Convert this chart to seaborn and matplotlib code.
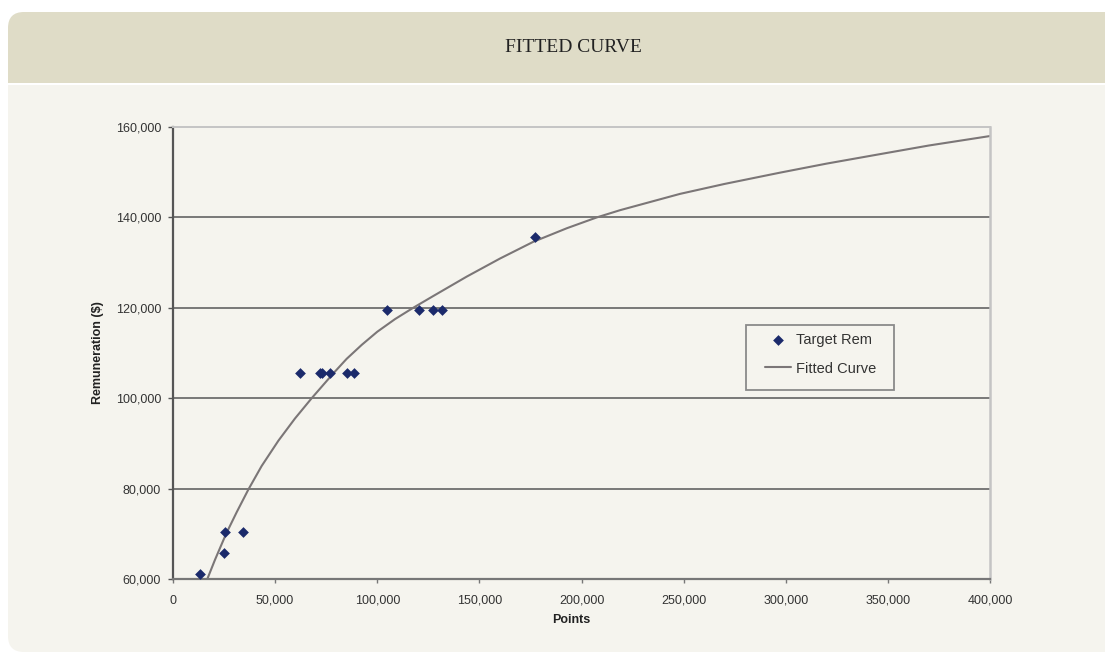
import matplotlib
matplotlib.use("Agg")
import matplotlib.pyplot as plt
import seaborn as sns
from matplotlib.patches import FancyBboxPatch, Rectangle
from matplotlib.ticker import FuncFormatter

# ---------------- data ----------------
title = "FITTED CURVE"
x_label = "Points"
y_label = "Remuneration ($)"
series_points = "Target Rem"
series_curve = "Fitted Curve"

points_x = [13200, 25100, 25500, 34100, 62300, 72000, 72800, 76900, 85400, 88800,
            104900, 120600, 127400, 131500, 177200]
points_y = [61100, 65800, 70400, 70400, 105600, 105600, 105600, 105600, 105600, 105600,
            119600, 119600, 119600, 119600, 135600]

curve_x = [16800, 20600, 26000, 31200, 36900, 43400, 51600, 59700, 67900, 78500,
           85000, 92400, 100000, 108700, 117600, 127400, 143800, 160100, 176400, 192800,
           207500, 218900, 248200, 270000, 297200, 320000, 346200, 370000, 400000]
curve_y = [60000, 64300, 70000, 74800, 79800, 85000, 90600, 95500, 100000, 105500,
           108700, 111800, 114700, 117500, 120000, 122600, 126900, 130900, 134600, 137600,
           140000, 141600, 145200, 147400, 149900, 151900, 154000, 155900, 158000]

x_ticks = [0, 50000, 100000, 150000, 200000, 250000, 300000, 350000, 400000]
y_ticks = [60000, 80000, 100000, 120000, 140000, 160000]

# ---------------- style ----------------
sns.set_theme(style="white")
plt.rcParams["font.family"] = ["Liberation Sans", "DejaVu Sans"]

HEADER = "#dfdcc7"
BODY = "#f5f4ee"
W, H = 1105, 654

fig = plt.figure(figsize=(W / 100, H / 100), dpi=100)
fig.patch.set_facecolor("white")

# background card (pixel coordinates)
bg = fig.add_axes([0, 0, 1, 1])
bg.set_xlim(0, W)
bg.set_ylim(H, 0)
bg.axis("off")
bg.set_zorder(-1)
bg.add_patch(FancyBboxPatch((8, 12), 1130, 71, boxstyle="round,pad=0,rounding_size=16",
                            fc=HEADER, ec="none"))
bg.add_patch(Rectangle((8, 50), 1130, 33, fc=HEADER, ec="none"))
bg.add_patch(Rectangle((8, 85), 1130, 520, fc=BODY, ec="none"))
bg.add_patch(FancyBboxPatch((8, 560), 1130, 92, boxstyle="round,pad=0,rounding_size=16",
                            fc=BODY, ec="none"))
bg.text(573, 47, title, ha="center", va="center", family="Liberation Serif",
        fontsize=14, color="#222222")
# legend frame
bg.add_patch(Rectangle((746, 325), 148, 65, fc=BODY, ec="#8a8a8a", lw=1.3))

# ---------------- main axes ----------------
ax = fig.add_axes([173 / W, (H - 579) / H, 817 / W, 452 / H])
ax.set_facecolor("none")

sns.scatterplot(x=points_x, y=points_y, marker="D", s=30, color="#1b2a6b",
                linewidth=0, label=series_points, ax=ax, zorder=3)
sns.lineplot(x=curve_x, y=curve_y, color="#7b7677", lw=1.5, label=series_curve,
             ax=ax, zorder=2, estimator=None)

ax.set_xlim(x_ticks[0], x_ticks[-1])
ax.set_ylim(y_ticks[0], y_ticks[-1])
ax.set_xticks(x_ticks)
ax.set_yticks(y_ticks)
fmt = FuncFormatter(lambda v, p: f"{int(v):,}")
ax.xaxis.set_major_formatter(fmt)
ax.yaxis.set_major_formatter(fmt)

ax.grid(axis="y", color="#6e6e6e", lw=1.3)
ax.set_axisbelow(True)
for gl, t in zip(ax.yaxis.get_gridlines(), y_ticks):
    if t in (y_ticks[0], y_ticks[-1]):
        gl.set_visible(False)

for side in ["left", "bottom", "top", "right"]:
    ax.spines[side].set_visible(True)
ax.spines["left"].set_color("#555555")
ax.spines["left"].set_linewidth(1.6)
ax.spines["bottom"].set_color("#777777")
ax.spines["bottom"].set_linewidth(1.6)
ax.spines["top"].set_color("#c4c4c4")
ax.spines["top"].set_linewidth(1.4)
ax.spines["right"].set_color("#c4c4c4")
ax.spines["right"].set_linewidth(1.8)

ax.tick_params(axis="y", left=True, direction="out", length=3.6, width=1,
               color="#555555", pad=5, labelsize=9, labelcolor="#333333")
ax.tick_params(axis="x", bottom=True, direction="out", length=3, width=1,
               color="#777777", pad=8.5, labelsize=9, labelcolor="#333333")

ax.set_xlabel(x_label, fontsize=9, fontweight="bold", color="#222222")
ax.set_ylabel(y_label, fontsize=9, fontweight="bold", color="#222222")
ax.xaxis.set_label_coords(0.488, -0.077)
ax.yaxis.set_label_coords(-0.085, 0.5)

leg = ax.legend(loc="upper left", bbox_to_anchor=(765 / W, 1 - 333 / H),
                bbox_transform=fig.transFigure, frameon=False, fontsize=10.5,
                borderpad=0, labelspacing=1.0, handlelength=1.8, handletextpad=0.35,
                borderaxespad=0)
for t in leg.get_texts():
    t.set_color("#333333")

fig.savefig("out.png", dpi=100, facecolor="white")
